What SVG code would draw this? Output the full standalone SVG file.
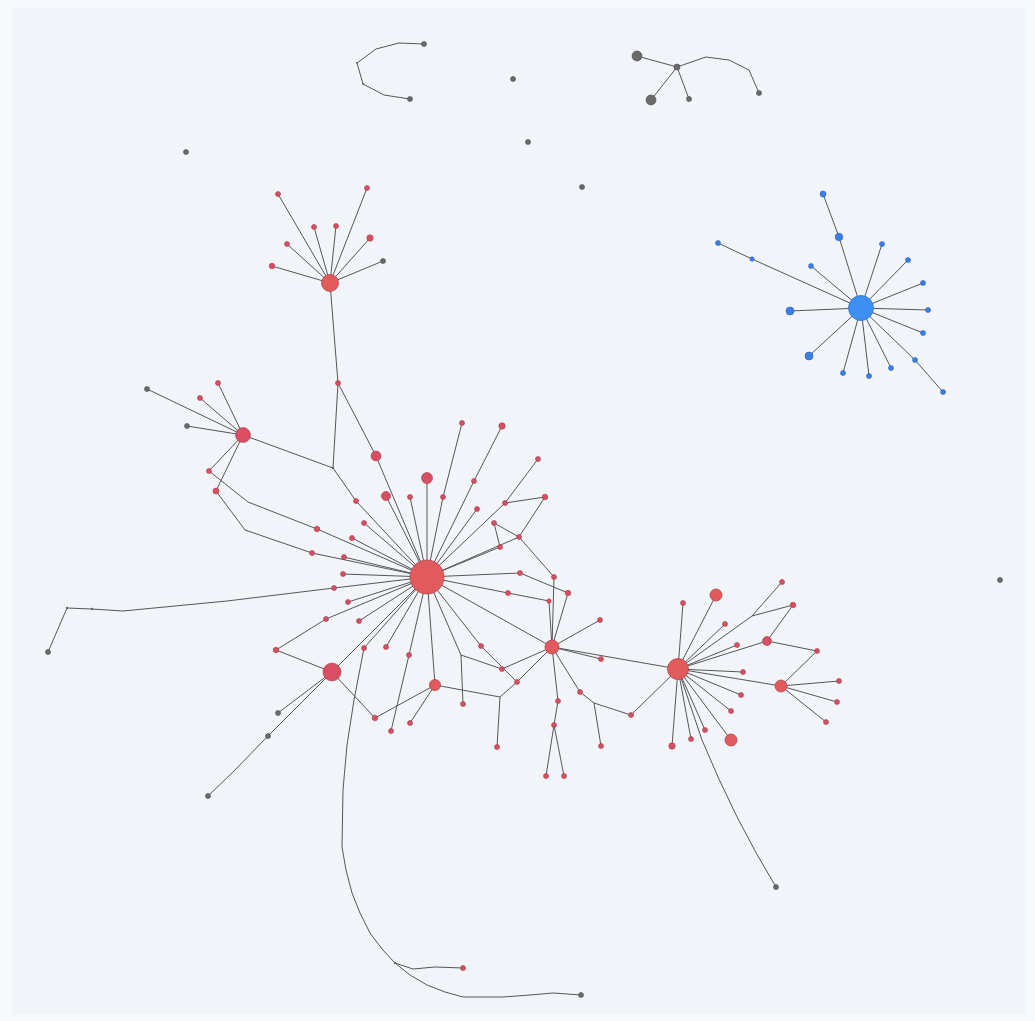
<svg xmlns="http://www.w3.org/2000/svg" width="1035" height="1021" viewBox="0 0 1035 1021">
<style>
.e{stroke:#565656;stroke-width:1;fill:none;stroke-linejoin:round}
.r{fill:#d94f62;stroke:#a8394a;stroke-width:0.6}
.R{fill:#e15b5c;stroke:#b9444a;stroke-width:0.8}
.g{fill:#6a6a6a;stroke:#4a4a4a;stroke-width:0.6}
.b{fill:#3a7ee6;stroke:#2b62bd;stroke-width:0.6}
.B{fill:#3d90f2;stroke:#2f74cf;stroke-width:0.8}
.k{fill:#666}
</style>
<rect width="1035" height="1021" fill="#f8f9fb"/>
<rect x="12" y="8" width="1013" height="1007" fill="#f1f4f8"/>
<g id="edges">
<polyline class="e" points="424,44 399,43 376,49 357,63 363,84 384,95 410,99"/>
<line class="e" x1="677" y1="67" x2="637" y2="56"/>
<line class="e" x1="677" y1="67" x2="651" y2="100"/>
<line class="e" x1="677" y1="67" x2="689" y2="99"/>
<polyline class="e" points="677,67 706,57 729,60 749,70 759,93"/>
<line class="e" x1="330" y1="283" x2="278" y2="194"/>
<line class="e" x1="330" y1="283" x2="367" y2="188"/>
<line class="e" x1="330" y1="283" x2="314" y2="227"/>
<line class="e" x1="330" y1="283" x2="336" y2="226"/>
<line class="e" x1="330" y1="283" x2="287" y2="244"/>
<line class="e" x1="330" y1="283" x2="370" y2="238"/>
<line class="e" x1="330" y1="283" x2="272" y2="266"/>
<line class="e" x1="330" y1="283" x2="383" y2="261"/>
<line class="e" x1="330" y1="283" x2="338" y2="383"/>
<line class="e" x1="243" y1="435" x2="147" y2="389"/>
<line class="e" x1="243" y1="435" x2="218" y2="383"/>
<line class="e" x1="243" y1="435" x2="200" y2="398"/>
<line class="e" x1="243" y1="435" x2="187" y2="426"/>
<line class="e" x1="243" y1="435" x2="209" y2="471"/>
<line class="e" x1="243" y1="435" x2="216" y2="491"/>
<line class="e" x1="243" y1="435" x2="333" y2="468"/>
<line class="e" x1="338" y1="383" x2="333" y2="468"/>
<line class="e" x1="338" y1="383" x2="376" y2="456"/>
<line class="e" x1="333" y1="468" x2="356" y2="501"/>
<polyline class="e" points="209,471 248,502 317,529 427,577"/>
<polyline class="e" points="216,491 245,530 312,553 427,577"/>
<line class="e" x1="427" y1="577" x2="376" y2="456"/>
<line class="e" x1="427" y1="577" x2="427" y2="478"/>
<line class="e" x1="427" y1="577" x2="386" y2="496"/>
<line class="e" x1="427" y1="577" x2="410" y2="497"/>
<line class="e" x1="427" y1="577" x2="443" y2="497"/>
<line class="e" x1="427" y1="577" x2="474" y2="481"/>
<line class="e" x1="427" y1="577" x2="477" y2="509"/>
<line class="e" x1="427" y1="577" x2="505" y2="503"/>
<line class="e" x1="427" y1="577" x2="500" y2="547"/>
<line class="e" x1="427" y1="577" x2="519" y2="537"/>
<line class="e" x1="427" y1="577" x2="520" y2="573"/>
<line class="e" x1="427" y1="577" x2="508" y2="593"/>
<line class="e" x1="427" y1="577" x2="552" y2="647"/>
<line class="e" x1="427" y1="577" x2="481" y2="646"/>
<line class="e" x1="427" y1="577" x2="461" y2="655"/>
<line class="e" x1="427" y1="577" x2="435" y2="685"/>
<line class="e" x1="427" y1="577" x2="409" y2="655"/>
<line class="e" x1="427" y1="577" x2="386" y2="647"/>
<line class="e" x1="427" y1="577" x2="364" y2="648"/>
<line class="e" x1="427" y1="577" x2="359" y2="621"/>
<line class="e" x1="427" y1="577" x2="332" y2="672"/>
<line class="e" x1="427" y1="577" x2="348" y2="602"/>
<line class="e" x1="427" y1="577" x2="326" y2="619"/>
<line class="e" x1="427" y1="577" x2="334" y2="588"/>
<line class="e" x1="427" y1="577" x2="343" y2="574"/>
<line class="e" x1="427" y1="577" x2="344" y2="557"/>
<line class="e" x1="427" y1="577" x2="352" y2="538"/>
<line class="e" x1="427" y1="577" x2="364" y2="523"/>
<line class="e" x1="427" y1="577" x2="356" y2="501"/>
<line class="e" x1="443" y1="497" x2="462" y2="423"/>
<line class="e" x1="474" y1="481" x2="502" y2="426"/>
<line class="e" x1="505" y1="503" x2="538" y2="459"/>
<line class="e" x1="505" y1="503" x2="545" y2="497"/>
<line class="e" x1="545" y1="497" x2="519" y2="537"/>
<line class="e" x1="519" y1="537" x2="494" y2="523"/>
<line class="e" x1="494" y1="523" x2="500" y2="547"/>
<line class="e" x1="519" y1="537" x2="554" y2="577"/>
<line class="e" x1="554" y1="577" x2="552" y2="647"/>
<line class="e" x1="520" y1="573" x2="568" y2="593"/>
<line class="e" x1="568" y1="593" x2="552" y2="647"/>
<line class="e" x1="508" y1="593" x2="549" y2="601"/>
<line class="e" x1="549" y1="601" x2="552" y2="647"/>
<line class="e" x1="481" y1="646" x2="517" y2="682"/>
<line class="e" x1="517" y1="682" x2="552" y2="647"/>
<line class="e" x1="461" y1="655" x2="463" y2="704"/>
<line class="e" x1="461" y1="655" x2="502" y2="669"/>
<line class="e" x1="502" y1="669" x2="552" y2="647"/>
<line class="e" x1="409" y1="655" x2="391" y2="731"/>
<line class="e" x1="435" y1="685" x2="410" y2="723"/>
<line class="e" x1="435" y1="685" x2="375" y2="718"/>
<line class="e" x1="375" y1="718" x2="332" y2="672"/>
<polyline class="e" points="435,685 500,697 497,747"/>
<line class="e" x1="500" y1="697" x2="517" y2="682"/>
<polyline class="e" points="334,588 227,601 123,611 92,609 67,608 48,652"/>
<polyline class="e" points="326,619 276,650 332,672"/>
<line class="e" x1="332" y1="672" x2="278" y2="713"/>
<polyline class="e" points="332,672 268,736 233,772 208,796"/>
<polyline class="e" points="364,648 354,700 347,745 343,790 342,847 346,870 352,893 360,913 370,933 382,949 395,963 410,975 427,985 445,992 463,997 503,997 530,995 553,993 581,995"/>
<polyline class="e" points="395,963 413,969 435,967 463,968"/>
<line class="e" x1="552" y1="647" x2="600" y2="620"/>
<line class="e" x1="552" y1="647" x2="601" y2="659"/>
<polyline class="e" points="552,647 580,692 594,703 601,746"/>
<polyline class="e" points="594,703 631,715 678,669"/>
<polyline class="e" points="552,647 558,701 554,725 546,776"/>
<line class="e" x1="554" y1="725" x2="564" y2="776"/>
<line class="e" x1="552" y1="647" x2="678" y2="669"/>
<line class="e" x1="678" y1="669" x2="683" y2="603"/>
<line class="e" x1="678" y1="669" x2="716" y2="595"/>
<line class="e" x1="678" y1="669" x2="725" y2="624"/>
<polyline class="e" points="678,669 752,616 782,582"/>
<line class="e" x1="752" y1="616" x2="793" y2="605"/>
<line class="e" x1="793" y1="605" x2="767" y2="641"/>
<line class="e" x1="678" y1="669" x2="737" y2="645"/>
<line class="e" x1="678" y1="669" x2="767" y2="641"/>
<polyline class="e" points="767,641 817,651 781,686"/>
<line class="e" x1="678" y1="669" x2="743" y2="672"/>
<line class="e" x1="678" y1="669" x2="781" y2="686"/>
<line class="e" x1="781" y1="686" x2="839" y2="681"/>
<line class="e" x1="781" y1="686" x2="837" y2="702"/>
<line class="e" x1="781" y1="686" x2="826" y2="722"/>
<line class="e" x1="678" y1="669" x2="741" y2="695"/>
<line class="e" x1="678" y1="669" x2="731" y2="711"/>
<line class="e" x1="678" y1="669" x2="731" y2="740"/>
<line class="e" x1="678" y1="669" x2="705" y2="730"/>
<line class="e" x1="678" y1="669" x2="691" y2="739"/>
<line class="e" x1="678" y1="669" x2="672" y2="746"/>
<path class="e" d="M678,669 L702,740 Q735,820 776,887"/>
<line class="e" x1="861" y1="308" x2="839" y2="237"/>
<line class="e" x1="839" y1="237" x2="823" y2="194"/>
<line class="e" x1="861" y1="308" x2="882" y2="244"/>
<line class="e" x1="861" y1="308" x2="908" y2="260"/>
<line class="e" x1="861" y1="308" x2="923" y2="283"/>
<line class="e" x1="861" y1="308" x2="928" y2="310"/>
<line class="e" x1="861" y1="308" x2="923" y2="333"/>
<polyline class="e" points="861,308 915,360 943,392"/>
<line class="e" x1="861" y1="308" x2="891" y2="368"/>
<line class="e" x1="861" y1="308" x2="869" y2="376"/>
<line class="e" x1="861" y1="308" x2="843" y2="373"/>
<line class="e" x1="861" y1="308" x2="809" y2="356"/>
<line class="e" x1="861" y1="308" x2="790" y2="311"/>
<line class="e" x1="861" y1="308" x2="811" y2="266"/>
<polyline class="e" points="861,308 752,259 718,243"/>
</g>
<g id="n-top"><circle class="g" cx="424" cy="44" r="2.5"/><circle class="g" cx="410" cy="99" r="2.5"/><circle class="k" cx="357" cy="63" r="1"/><circle class="k" cx="363" cy="84" r="1"/></g>
<g id="n-iso"><circle class="g" cx="513" cy="79" r="2.5"/><circle class="g" cx="186" cy="152" r="2.5"/><circle class="g" cx="528" cy="142" r="2.5"/><circle class="g" cx="582" cy="187" r="2.5"/><circle class="g" cx="1000" cy="580" r="2.5"/></g>
<g id="n-gray"><circle class="g" cx="637" cy="56" r="5"/><circle class="g" cx="677" cy="67" r="3"/><circle class="g" cx="651" cy="100" r="5"/><circle class="g" cx="689" cy="99" r="2.5"/><circle class="g" cx="759" cy="93" r="2.5"/></g>
<g id="n-upper"><circle class="R" cx="330" cy="283" r="8.5"/><circle class="r" cx="278" cy="194" r="2.5"/><circle class="r" cx="367" cy="188" r="2.5"/><circle class="r" cx="314" cy="227" r="2.5"/><circle class="r" cx="336" cy="226" r="2.5"/><circle class="r" cx="287" cy="244" r="2.5"/><circle class="r" cx="370" cy="238" r="3.2"/><circle class="r" cx="272" cy="266" r="2.8"/><circle class="g" cx="383" cy="261" r="2.5"/><circle class="r" cx="338" cy="383" r="2.5"/></g>
<g id="n-left"><circle class="r" cx="243" cy="435" r="7.5"/><circle class="g" cx="147" cy="389" r="2.5"/><circle class="r" cx="218" cy="383" r="2.5"/><circle class="r" cx="200" cy="398" r="2.5"/><circle class="g" cx="187" cy="426" r="2.5"/><circle class="r" cx="209" cy="471" r="2.5"/><circle class="r" cx="216" cy="491" r="3"/><circle class="k" cx="333" cy="468" r="1.2"/></g>
<g id="n-center"><circle class="R" cx="427" cy="577" r="17"/>
<circle class="r" cx="376" cy="456" r="5"/><circle class="r" cx="427" cy="478" r="5.5"/><circle class="r" cx="386" cy="496" r="4.5"/><circle class="r" cx="410" cy="497" r="2.5"/><circle class="r" cx="443" cy="497" r="2.5"/><circle class="r" cx="462" cy="423" r="2.5"/><circle class="r" cx="474" cy="481" r="2.5"/><circle class="r" cx="502" cy="426" r="3.2"/><circle class="r" cx="477" cy="509" r="2.5"/><circle class="r" cx="505" cy="503" r="2.5"/><circle class="r" cx="538" cy="459" r="2.5"/><circle class="r" cx="545" cy="497" r="2.8"/><circle class="r" cx="494" cy="523" r="2.5"/><circle class="r" cx="500" cy="547" r="2.5"/><circle class="r" cx="519" cy="537" r="2.5"/><circle class="r" cx="520" cy="573" r="2.5"/><circle class="r" cx="554" cy="577" r="2.5"/><circle class="r" cx="568" cy="593" r="2.8"/><circle class="r" cx="508" cy="593" r="2.5"/><circle class="r" cx="549" cy="601" r="2.2"/>
<circle class="r" cx="317" cy="529" r="2.8"/><circle class="r" cx="312" cy="553" r="2.5"/><circle class="r" cx="356" cy="501" r="2.5"/><circle class="r" cx="364" cy="523" r="2.5"/><circle class="r" cx="352" cy="538" r="2.5"/><circle class="r" cx="344" cy="557" r="2.5"/><circle class="r" cx="343" cy="574" r="2.5"/><circle class="r" cx="334" cy="588" r="2.5"/><circle class="r" cx="348" cy="602" r="2.5"/><circle class="r" cx="326" cy="619" r="2.5"/><circle class="r" cx="359" cy="621" r="2.5"/><circle class="r" cx="276" cy="650" r="2.8"/><circle class="r" cx="364" cy="648" r="2.5"/><circle class="r" cx="386" cy="647" r="2.5"/><circle class="r" cx="409" cy="655" r="2.5"/><circle class="r" cx="481" cy="646" r="2.5"/><circle class="r" cx="502" cy="669" r="2.5"/><circle class="r" cx="517" cy="682" r="2.5"/><circle class="r" cx="463" cy="704" r="2.5"/><circle class="r" cx="497" cy="747" r="2.5"/><circle class="r" cx="375" cy="718" r="2.8"/><circle class="r" cx="391" cy="731" r="2.5"/><circle class="r" cx="410" cy="723" r="2.5"/><circle class="R" cx="435" cy="685" r="5.5"/></g>
<g id="n-lefthub"><circle class="r" cx="332" cy="672" r="9"/><circle class="g" cx="278" cy="713" r="2.5"/><circle class="g" cx="268" cy="736" r="2.5"/><circle class="g" cx="208" cy="796" r="2.5"/><circle class="g" cx="48" cy="652" r="2.5"/><circle class="k" cx="67" cy="608" r="1.2"/><circle class="k" cx="92" cy="609" r="1.2"/></g>
<g id="n-bottom"><circle class="r" cx="463" cy="968" r="2.5"/><circle class="g" cx="581" cy="995" r="2.5"/><circle class="k" cx="395" cy="963" r="1.2"/></g>
<g id="n-hub2"><circle class="R" cx="552" cy="647" r="7"/><circle class="r" cx="600" cy="620" r="2.5"/><circle class="r" cx="601" cy="659" r="2.5"/><circle class="r" cx="580" cy="692" r="2.5"/><circle class="r" cx="558" cy="701" r="2.5"/><circle class="r" cx="554" cy="725" r="2.5"/><circle class="r" cx="546" cy="776" r="2.5"/><circle class="r" cx="564" cy="776" r="2.5"/><circle class="r" cx="601" cy="746" r="2.5"/><circle class="r" cx="631" cy="715" r="2.5"/></g>
<g id="n-hub3"><circle class="R" cx="678" cy="669" r="10.5"/><circle class="r" cx="683" cy="603" r="2.5"/><circle class="R" cx="716" cy="595" r="6"/><circle class="r" cx="725" cy="624" r="2.5"/><circle class="r" cx="782" cy="582" r="2.5"/><circle class="r" cx="793" cy="605" r="2.8"/><circle class="r" cx="737" cy="645" r="2.5"/><circle class="r" cx="767" cy="641" r="4.5"/><circle class="r" cx="817" cy="651" r="2.5"/><circle class="r" cx="743" cy="672" r="2.5"/><circle class="R" cx="781" cy="686" r="6"/><circle class="r" cx="839" cy="681" r="2.5"/><circle class="r" cx="837" cy="702" r="2.5"/><circle class="r" cx="826" cy="722" r="2.5"/><circle class="r" cx="741" cy="695" r="2.5"/><circle class="r" cx="731" cy="711" r="2.5"/><circle class="R" cx="731" cy="740" r="6"/><circle class="r" cx="705" cy="730" r="2.5"/><circle class="r" cx="691" cy="739" r="2.5"/><circle class="r" cx="672" cy="746" r="3.2"/><circle class="g" cx="776" cy="887" r="2.5"/></g>
<g id="n-blue"><circle class="B" cx="861" cy="308" r="12.5"/><circle class="b" cx="823" cy="194" r="3"/><circle class="b" cx="839" cy="237" r="3.8"/><circle class="b" cx="882" cy="244" r="2.5"/><circle class="b" cx="908" cy="260" r="2.5"/><circle class="b" cx="923" cy="283" r="2.5"/><circle class="b" cx="928" cy="310" r="2.5"/><circle class="b" cx="923" cy="333" r="2.5"/><circle class="b" cx="915" cy="360" r="2.5"/><circle class="b" cx="943" cy="392" r="2.5"/><circle class="b" cx="891" cy="368" r="2.5"/><circle class="b" cx="869" cy="376" r="2.5"/><circle class="b" cx="843" cy="373" r="2.5"/><circle class="b" cx="809" cy="356" r="4"/><circle class="b" cx="790" cy="311" r="4"/><circle class="b" cx="811" cy="266" r="2.5"/><circle class="b" cx="752" cy="259" r="2.2"/><circle class="b" cx="718" cy="243" r="2.5"/></g>
</svg>
